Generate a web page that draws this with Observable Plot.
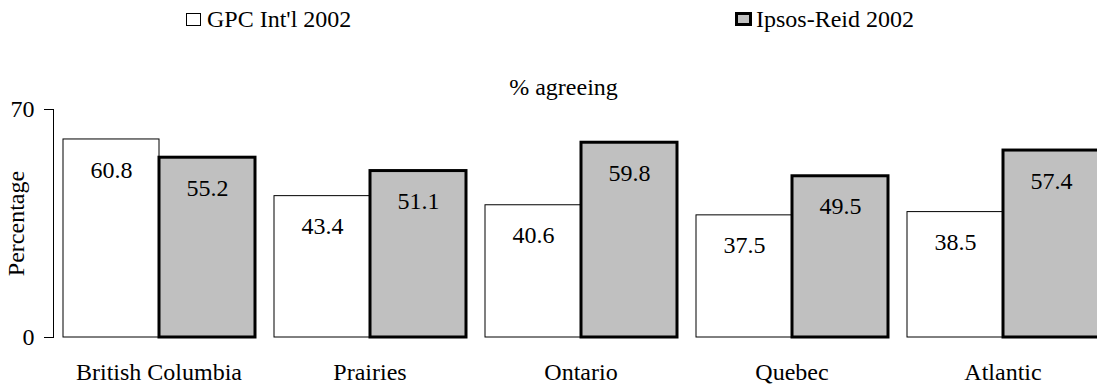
<!DOCTYPE html>
<html>
<head>
<meta charset="utf-8">
<script src="https://cdn.jsdelivr.net/npm/d3@7"></script>
<script src="https://cdn.jsdelivr.net/npm/@observablehq/plot@0.6"></script>
<style>
  html, body { margin: 0; padding: 0; background: #fff; }
  #wrap { position: relative; width: 1097px; height: 385px; overflow: hidden; font-family: "Liberation Serif", "Times New Roman", serif; color: #000; }
  .leg { position: absolute; top: 6px; font-size: 24px; line-height: 26px; display: flex; align-items: center; white-space: nowrap; }
  .sw { display: inline-block; box-sizing: border-box; }
  #title { position: absolute; top: 74px; left: 0; width: 1097px; text-align: center; padding-left: 30px; box-sizing: border-box; font-size: 24px; line-height: 26px; }
  #chart { position: absolute; top: 102px; left: 0; }
  #chart svg { overflow: visible; }
</style>
</head>
<body>
<div id="wrap">
  <div class="leg" id="leg1"></div>
  <div class="leg" id="leg2"></div>
  <div id="title"></div>
  <div id="chart"></div>
</div>
<script>
const categories = ["British Columbia", "Prairies", "Ontario", "Quebec", "Atlantic"];
const seriesNames = ["GPC Int'l 2002", "Ipsos-Reid 2002"];
const gpcValues = [60.8, 43.4, 40.6, 37.5, 38.5];
const ipsosValues = [55.2, 51.1, 59.8, 49.5, 57.4];
const yTicks = [0, 70];
const titleText = "% agreeing";
const yLabel = "Percentage";

const fills = {"GPC Int'l 2002": "#ffffff", "Ipsos-Reid 2002": "#c0c0c0"};
const strokeW = {"GPC Int'l 2002": 1, "Ipsos-Reid 2002": 3};

const data = [];
categories.forEach((c, i) => {
  data.push({region: c, series: seriesNames[0], value: gpcValues[i]});
  data.push({region: c, series: seriesNames[1], value: ipsosValues[i]});
});

// legend
function legendItem(el, name, left) {
  el.style.left = left + "px";
  const sw = document.createElement("span");
  sw.className = "sw";
  if (name === seriesNames[0]) {
    sw.style.width = "15px"; sw.style.height = "13px";
    sw.style.border = "1px solid #000"; sw.style.background = "#fff";
    sw.style.marginRight = "6px";
  } else {
    sw.style.width = "17px"; sw.style.height = "14px";
    sw.style.border = "3px solid #000"; sw.style.background = "#c0c0c0";
    sw.style.marginRight = "4px";
  }
  el.appendChild(sw);
  el.appendChild(document.createTextNode(name));
}
legendItem(document.getElementById("leg1"), seriesNames[0], 186);
legendItem(document.getElementById("leg2"), seriesNames[1], 735);
document.getElementById("title").textContent = titleText;

const plot = Plot.plot({
  width: 1097,
  height: 283,
  marginLeft: 52,
  marginRight: -11,
  marginTop: 7,
  marginBottom: 48,
  style: {fontFamily: "'Liberation Serif', 'Times New Roman', serif", fontSize: "24px", color: "#000", background: "transparent"},
  fx: {domain: categories, paddingInner: 0, paddingOuter: 0, label: null},
  x: {domain: seriesNames, paddingInner: 0, paddingOuter: 0.09, axis: null},
  y: {domain: [0, 70], ticks: yTicks},
  marks: [
    Plot.axisY({ticks: yTicks, tickSize: 9, tickPadding: 10, label: yLabel, labelAnchor: "center", labelArrow: "none", labelOffset: 47, stroke: "#000"}),
    Plot.frame({anchor: "left", facetAnchor: "left", stroke: "#000"}),
    Plot.axisFx({anchor: "bottom", tickSize: 0, tickPadding: 25, label: null}),
    Plot.barY(data, {
      fx: "region", x: "series", y: "value",
      fill: d => fills[d.series],
      stroke: "#000",
      strokeWidth: d => strokeW[d.series],
      inset: 0
    }),
    Plot.text(data, {
      fx: "region", x: "series", y: "value",
      text: d => d.value.toFixed(1),
      lineAnchor: "top", dy: 21,
      fill: "#000", fontSize: 24
    })
  ]
});
document.getElementById("chart").appendChild(plot);
</script>
</body>
</html>
